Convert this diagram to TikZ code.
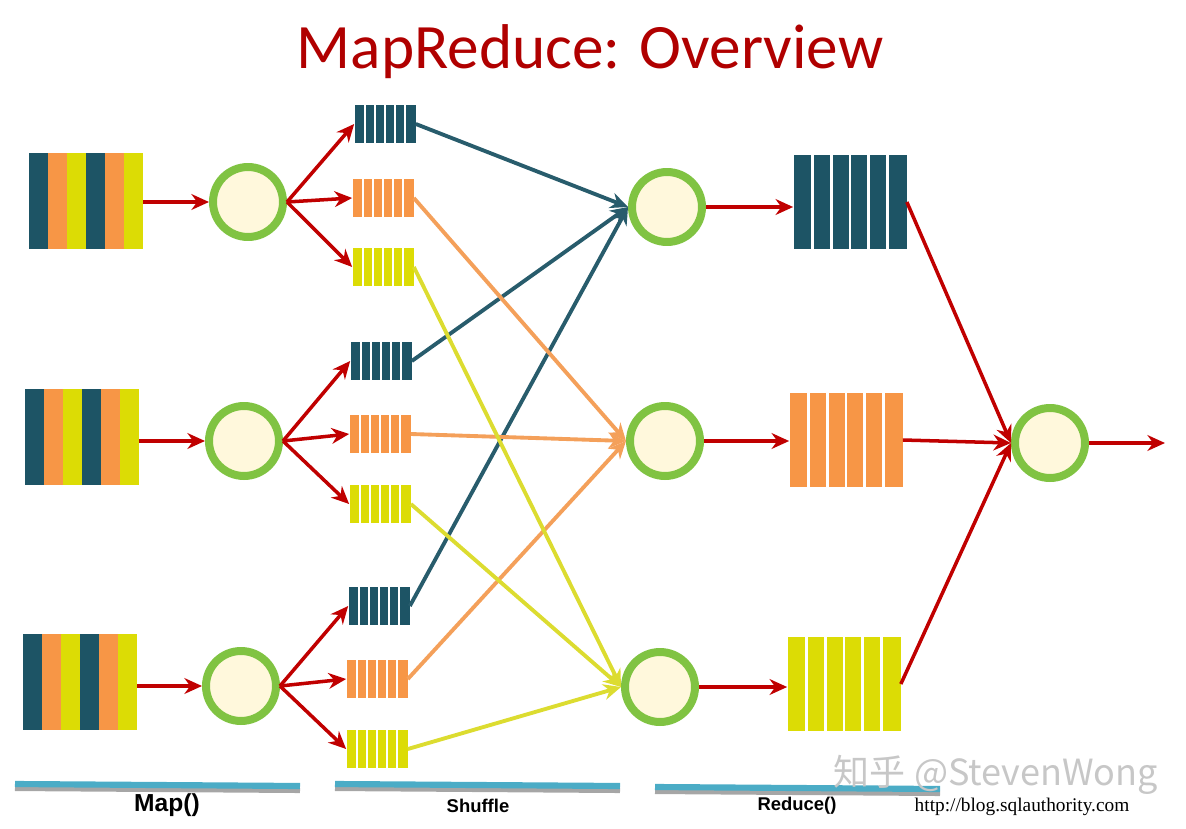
\documentclass[tikz,border=0pt]{standalone}
\usepackage{fontspec}
\setmainfont{Carlito}
\newfontfamily\labelfont{Liberation Sans}
\newfontfamily\urlfont{Liberation Serif}
\newfontfamily\cjkfont{Noto Sans CJK SC}
\usetikzlibrary{arrows.meta,calc,positioning}

\definecolor{tealc}{HTML}{1D5465}
\definecolor{orangec}{HTML}{F79646}
\definecolor{yellowc}{HTML}{DCDC05}
\definecolor{ringgreen}{HTML}{80C342}
\definecolor{cream}{HTML}{FFF8DC}
\definecolor{arrowred}{HTML}{C00000}
\definecolor{titlered}{HTML}{B00000}
\definecolor{barblue}{HTML}{4BACC6}
\definecolor{teall}{HTML}{285C6C}
\definecolor{orangel}{HTML}{F4A05A}
\definecolor{yellowl}{HTML}{DCDC30}

\begin{document}
\begin{tikzpicture}[
    x=0.02cm, y=-0.02cm,
    input/.style={minimum width=2.28cm, minimum height=1.92cm, inner sep=0, path picture={
        \foreach \c [count=\i from 0] in {tealc,orangec,yellowc,tealc,orangec,yellowc}
          \fill[\c] ($(path picture bounding box.south west)!\i/6!(path picture bounding box.south east)$)
            rectangle ($(path picture bounding box.north west)!\i/6+1/6!(path picture bounding box.north east)$);
    }},
    bars/.style={inner sep=0, fill=#1, path picture={
        \foreach \i in {1,...,5}
          \draw[white, line width=\gapwidth] ($(path picture bounding box.south west)!\i/6!(path picture bounding box.south east)$)
            -- ($(path picture bounding box.north west)!\i/6!(path picture bounding box.north east)$);
    }},
    chunk/.style={bars=#1, minimum width=1.22cm, minimum height=0.76cm},
    result/.style={bars=#1, minimum width=2.26cm, minimum height=1.9cm},
    task/.style={circle, draw=ringgreen, fill=cream, line width=0.16cm, minimum size=1.4cm, inner sep=0},
    arrow/.style={->, line width=2pt, draw=arrowred, >={Stealth[length=10pt, width=9pt]}},
    flow/.style={->, line width=2.2pt, draw=#1, >={Stealth[length=10pt, width=9pt]}},
    track/.style={draw=barblue, line width=3.5pt, preaction={draw=black!35, line width=3pt, transform canvas={yshift=-2.5pt}}},
    caption/.style={font=\labelfont\bfseries\fontsize{10.5}{12}\selectfont}
]
    \def\gapwidth{1pt}
    \useasboundingbox (0,0) rectangle (1186,828);

    % Title
    \node [text=titlered, font=\fontsize{36}{40}\selectfont] (title) at (590,52) {MapReduce: Overview};

    % Input splits
    \node [input] (in1) at (86,201) {};
    \node [input] (in2) at (82,437) {};
    \node [input] (in3) at (80,682) {};

    % Map tasks
    \node [task] (m1) at (248,202) {};
    \node [task] (m2) at (244,441) {};
    \node [task] (m3) at (241,686) {};

    % Shuffle buckets
    \node [chunk=tealc] (s1a) at (385,124) {};
    \node [chunk=orangec] (s1b) at (383,198) {};
    \node [chunk=yellowc] (s1c) at (383,267) {};
    \node [chunk=tealc] (s2a) at (381,361) {};
    \node [chunk=orangec] (s2b) at (380,434) {};
    \node [chunk=yellowc] (s2c) at (380,504) {};
    \node [chunk=tealc] (s3a) at (379,606) {};
    \node [chunk=orangec] (s3b) at (377,679) {};
    \node [chunk=yellowc] (s3c) at (377,749) {};

    % Reduce tasks and outputs
    \node [task] (r1) at (667,207) {};
    \node [task] (r2) at (665,441) {};
    \node [task] (r3) at (660,687) {};
    \def\gapwidth{1.6pt}
    \node [result=tealc] (o1) at (850,202) {};
    \node [result=orangec] (o2) at (846,440) {};
    \node [result=yellowc] (o3) at (844,684) {};

    % Final merge
    \node [task] (fin) at (1050,443) {};
    \coordinate (out) at (1165,443);

    % Arrows into map
    \draw [arrow] (m1.west -| in1.east) -- (m1.west);
    \draw [arrow] (m2.west -| in2.east) -- (m2.west);
    \draw [arrow] (m3.west -| in3.east) -- (m3.west);

    % Arrows map to buckets
    \draw [arrow] (m1.east) -- (s1a.west);
    \draw [arrow] (m1.east) -- (s1b.west);
    \draw [arrow] (m1.east) -- (s1c.west);
    \draw [arrow] (m2.east) -- (s2a.west);
    \draw [arrow] (m2.east) -- (s2b.west);
    \draw [arrow] (m2.east) -- (s2c.west);
    \draw [arrow] (m3.east) -- (s3a.west);
    \draw [arrow] (m3.east) -- (s3b.west);
    \draw [arrow] (m3.east) -- (s3c.west);

    % Shuffle arrows
    \draw [flow=teall] (s1a.east) -- (r1.west);
    \draw [flow=teall] (s2a.east) -- (r1.west);
    \draw [flow=teall] (s3a.east) -- (r1.west);
    \draw [flow=orangel] (s1b.east) -- (r2.west);
    \draw [flow=orangel] (s2b.east) -- (r2.west);
    \draw [flow=orangel] (s3b.east) -- (r2.west);
    \draw [flow=yellowl] (s1c.east) -- (r3.west);
    \draw [flow=yellowl] (s2c.east) -- (r3.west);
    \draw [flow=yellowl] (s3c.east) -- (r3.west);

    % Arrows reduce to output
    \draw [arrow] (r1.east) -- (r1.east -| o1.west);
    \draw [arrow] (r2.east) -- (r2.east -| o2.west);
    \draw [arrow] (r3.east) -- (r3.east -| o3.west);
    \draw [arrow] (o1.east) -- (fin.west);
    \draw [arrow] (o2.east) -- (fin.west);
    \draw [arrow] (o3.east) -- (fin.west);
    \draw [arrow] (fin.east) -- (out);

    % Phase bars and labels
    \draw [track] (15,784) -- (300,786);
    \draw [track] (335,784) -- (620,786);
    \draw [track] (655,787) -- (940,789);
    \node [caption, font=\labelfont\bfseries\fontsize{14}{16}\selectfont] (maplabel) at (167,805) {Map()};
    \node [caption] (shufflelabel) at (478,806) {Shuffle};
    \node [caption] (reducelabel) at (797,806) {Reduce()};
    \node [font=\urlfont\fontsize{11}{13}\selectfont] (url) at (1022,807) {http://blog.sqlauthority.com};

    % Watermark
    \node [text=black!22, font=\cjkfont\fontsize{20.5}{23}\selectfont] (mark) at (996,775) {知乎 @StevenWong};

\end{tikzpicture}
\end{document}
